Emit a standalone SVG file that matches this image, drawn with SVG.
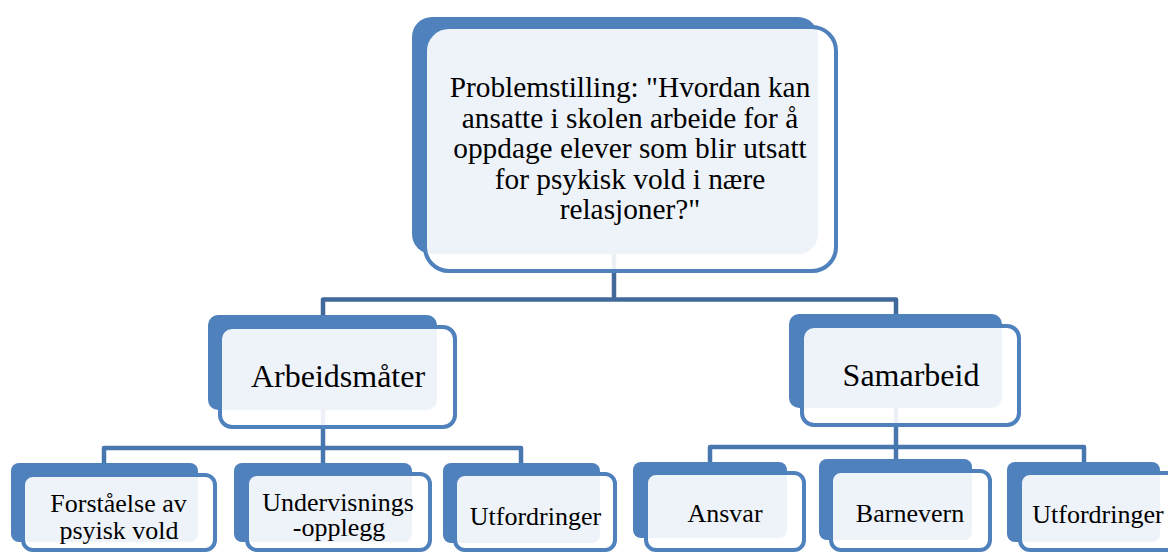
<svg xmlns="http://www.w3.org/2000/svg" width="1168" height="553" viewBox="0 0 1168 553">
<style>
.back{fill:#4F81BD}
.front{fill:#FFFFFF;fill-opacity:0.9;stroke:#4F81BD;stroke-width:4}
.conn{fill:none;stroke:#41699B;stroke-width:4.5;stroke-linejoin:round}
.conn2{fill:none;stroke:#4876AE;stroke-width:4.5;stroke-linejoin:round}
text{font-family:"Liberation Serif","Times New Roman",serif;fill:#000;text-anchor:middle}
.t1{font-size:29.33px}
.t2{font-size:32px}
.t3{font-size:26px}
</style>
<rect width="1168" height="553" fill="#FFFFFF"/>
<g id="connectors">
<path class="conn" d="M614,200 V299.5"/>
<path class="conn" d="M323,322 V299.5 H896 V322"/>
<path class="conn2" d="M323,400 V448"/>
<path class="conn2" d="M104,470 V448 H521 V470"/>
<path class="conn2" d="M323,448 V470"/>
<path class="conn2" d="M896,400 V447"/>
<path class="conn2" d="M710,470 V447 H1084 V470"/>
<path class="conn2" d="M896,447 V470"/>
</g>
<g id="node-main">
<rect class="back" x="412" y="17" width="406" height="237" rx="20"/>
<rect class="front" x="425" y="27" width="411" height="244" rx="24"/>
<text class="t1" x="630" y="97">Problemstilling: "Hvordan kan</text>
<text class="t1" x="630" y="128">ansatte i skolen arbeide for å</text>
<text class="t1" x="630" y="158">oppdage elever som blir utsatt</text>
<text class="t1" x="630" y="189">for psykisk vold i nære</text>
<text class="t1" x="630" y="219">relasjoner?"</text>
</g>
<g id="node-arbeidsmater">
<rect class="back" x="208" y="315" width="229" height="95" rx="10"/>
<rect class="front" x="220" y="327" width="235" height="100" rx="12"/>
<text class="t2" x="338" y="387">Arbeidsmåter</text>
</g>
<g id="node-samarbeid">
<rect class="back" x="789" y="314" width="213" height="94" rx="10"/>
<rect class="front" x="802" y="326" width="217" height="99" rx="12"/>
<text class="t2" x="911" y="386">Samarbeid</text>
</g>
<g id="node-forstaelse">
<rect class="back" x="11" y="463" width="187" height="79" rx="8"/>
<rect class="front" x="23" y="475" width="192" height="75" rx="10"/>
<text class="t3" x="118.5" y="512">Forståelse av</text>
<text class="t3" x="119" y="539">psyisk vold</text>
</g>
<g id="node-undervisning">
<rect class="back" x="234" y="463" width="178" height="79" rx="8"/>
<rect class="front" x="247" y="474" width="183" height="76" rx="10"/>
<text class="t3" x="338" y="511">Undervisnings</text>
<text class="t3" x="339" y="536">-opplegg</text>
</g>
<g id="node-utfordringer-1">
<rect class="back" x="443" y="463" width="157" height="80" rx="8"/>
<rect class="front" x="455" y="474" width="160" height="76" rx="10"/>
<text class="t3" x="535.5" y="525">Utfordringer</text>
</g>
<g id="node-ansvar">
<rect class="back" x="633" y="462" width="154" height="76" rx="8"/>
<rect class="front" x="646" y="473" width="158" height="77" rx="10"/>
<text class="t3" x="725" y="522">Ansvar</text>
</g>
<g id="node-barnevern">
<rect class="back" x="819" y="459" width="153" height="81" rx="8"/>
<rect class="front" x="831" y="471" width="159" height="79" rx="10"/>
<text class="t3" x="910" y="522">Barnevern</text>
</g>
<g id="node-utfordringer-2">
<rect class="back" x="1007" y="462" width="153" height="80" rx="8"/>
<rect class="front" x="1020" y="473" width="160" height="77" rx="10"/>
<text class="t3" x="1098" y="523">Utfordringer</text>
</g>
</svg>
